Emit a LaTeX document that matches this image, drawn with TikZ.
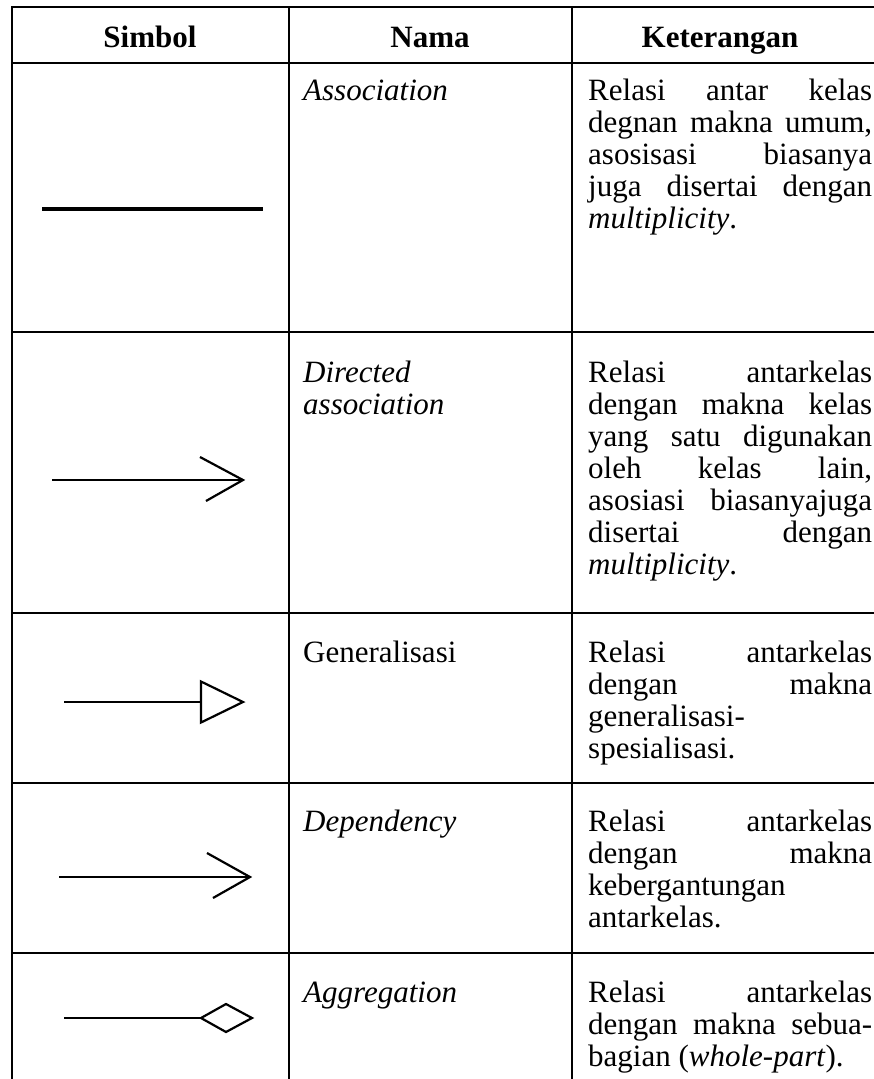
\documentclass[tikz,border=0pt]{standalone}
\usepackage{fontspec}
\setmainfont{Liberation Serif}
\newcommand\cellbox[2]{\parbox[t]{#1}{\fontsize{31}{32}\selectfont\hyphenpenalty=10000 \exhyphenpenalty=10000 \tolerance=10000 \hbadness=10000 \hfuzz=20pt #2}}
\begin{document}
\begin{tikzpicture}[x=1pt,y=-1pt]
\tikzset{
  gridline/.style={line width=2pt, line cap=rect},
  symline/.style={line width=2.2pt, line join=miter},
  hdr/.style={anchor=base, inner sep=0pt, font=\fontsize{31}{32}\selectfont\bfseries},
  celltext/.style={anchor=base west, inner sep=0pt},
}
\useasboundingbox (0,0) rectangle (873,1079);
% grid
\foreach \yy/\nm in {7/h0,63/h1,332/h2,613/h3,783/h4,953/h5}{
  \coordinate (\nm l) at (12,\yy);
  \coordinate (\nm r) at (873,\yy);
  \draw[gridline] (\nm l) -- (\nm r);
}
\foreach \xx/\nm in {12/v0,289/v1,572/v2}{
  \coordinate (\nm t) at (\xx,7);
  \coordinate (\nm b) at (\xx,1082);
  \draw[gridline] (\nm t) -- (\nm b);
}
% header
\node[hdr] (hsimbol) at (150,47) {Simbol};
\node[hdr] (hnama) at (430,47) {Nama};
\node[hdr] (hket) at (720,47) {Keterangan};
% names
\node[celltext] (n1) at (303,100) {\cellbox{260pt}{\textit{Association}}};
\node[celltext] (n2) at (303,382) {\cellbox{260pt}{\textit{Directed}\newline\textit{association}}};
\node[celltext] (n3) at (303,662) {\cellbox{260pt}{Generalisasi}};
\node[celltext] (n4) at (303,831) {\cellbox{260pt}{\textit{Dependency}}};
\node[celltext] (n5) at (303,1002) {\cellbox{260pt}{\textit{Aggregation}}};
% descriptions
\node[celltext] (k1) at (588,100) {\cellbox{284pt}{Relasi~antar~kelas\linebreak degnan~makna~umum,\linebreak asosisasi~biasanya\linebreak juga~disertai~dengan\linebreak \textit{multiplicity}.}};
\node[celltext] (k2) at (588,382) {\cellbox{284pt}{Relasi~antarkelas\linebreak dengan~makna~kelas\linebreak yang~satu~digunakan\linebreak oleh~kelas~lain,\linebreak asosiasi~biasanyajuga\linebreak disertai~dengan\linebreak \textit{multiplicity}.}};
\node[celltext] (k3) at (588,662) {\cellbox{284pt}{Relasi~antarkelas\linebreak dengan~makna\linebreak generalisasi-\linebreak spesialisasi.}};
\node[celltext] (k4) at (588,831) {\cellbox{284pt}{Relasi~antarkelas\linebreak dengan~makna\linebreak kebergantungan\linebreak antarkelas.}};
\node[celltext] (k5) at (588,1002) {\cellbox{284pt}{Relasi~antarkelas\linebreak dengan~makna~sebua-\linebreak bagian~(\textit{whole-part}).}};
% symbols
% association
\coordinate (a1s) at (42,209);
\coordinate (a1e) at (263,209);
\draw[line width=4pt] (a1s) -- (a1e);
% directed association
\coordinate (a2s) at (52,480);
\coordinate (a2e) at (243,480);
\coordinate (a2u) at (200,457);
\coordinate (a2d) at (206,501);
\draw[symline] (a2s) -- (a2e);
\draw[symline] (a2u) -- (a2e) -- (a2d);
% generalisation
\coordinate (a3s) at (64,702);
\coordinate (a3b) at (201,702);
\coordinate (a3u) at (201,681.5);
\coordinate (a3t) at (243,702);
\coordinate (a3d) at (201,722.5);
\draw[symline] (a3s) -- (a3b);
\draw[symline] (a3u) -- (a3t) -- (a3d) -- cycle;
% dependency
\coordinate (a4s) at (59,877);
\coordinate (a4e) at (250,877);
\coordinate (a4u) at (207,853);
\coordinate (a4d) at (213,898);
\draw[symline] (a4s) -- (a4e);
\draw[symline] (a4u) -- (a4e) -- (a4d);
% aggregation
\coordinate (a5s) at (64,1018);
\coordinate (a5l) at (201,1018);
\coordinate (a5u) at (226,1004);
\coordinate (a5r) at (252,1018);
\coordinate (a5d) at (226,1032);
\draw[symline] (a5s) -- (a5l);
\draw[symline] (a5l) -- (a5u) -- (a5r) -- (a5d) -- cycle;
\end{tikzpicture}
\end{document}
